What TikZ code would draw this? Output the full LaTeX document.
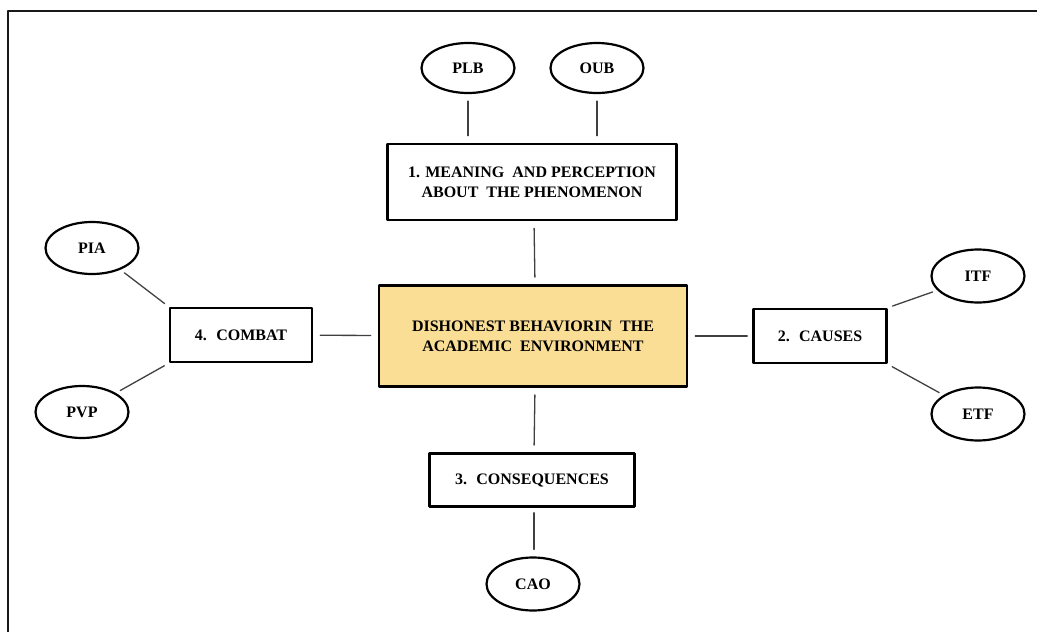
\documentclass[tikz,border=0pt]{standalone}
\usepackage{fontspec}
\setmainfont{Liberation Serif}
\usetikzlibrary{shapes.geometric}
\definecolor{kyellow}{RGB}{250,222,150}
\begin{document}
\begin{tikzpicture}[x=1pt,y=-1pt, font=\fontsize{16}{20}\selectfont\bfseries, line join=round, line cap=round,
    kbox/.style={draw, line width=2.6pt, rectangle, align=center, inner sep=0pt},
    koval/.style={draw, line width=2.2pt, ellipse, inner sep=0pt, minimum width=93pt, minimum height=53pt},
    kline/.style={draw=black!75, line width=1.3pt, shorten >=7pt, shorten <=7pt}]
    \useasboundingbox (0,0) rectangle (1037,632);
    \draw[line width=2.6pt, black!90] (8,645) -- (8,11) -- (1050,11); % khung
    % Các ô
    \node[kbox, fill=kyellow, minimum width=308pt, minimum height=101pt] (dish) at (533,336) {DISHONEST BEHAVIORIN~ THE\\ACADEMIC~ ENVIRONMENT};
    \node[kbox, minimum width=289pt, minimum height=76pt] (mean) at (532,182) {1. MEANING~ AND PERCEPTION\\ABOUT~ THE PHENOMENON};
    \node[kbox, minimum width=133pt, minimum height=54pt] (causes) at (820,336) {2.~ CAUSES};
    \node[kbox, minimum width=205pt, minimum height=53pt] (conseq) at (532,480) {3.~ CONSEQUENCES};
    \node[kbox, minimum width=142pt, minimum height=54pt] (combat) at (241,335) {4.~ COMBAT};
    % Các elip
    \node[koval, minimum height=50pt] (plb) at (468,68) {PLB};
    \node[koval, minimum height=50pt] (oub) at (597,68) {OUB};
    \node[koval] (itf) at (978,276) {ITF};
    \node[koval] (etf) at (978,414) {ETF};
    \node[koval] (cao) at (533,584) {CAO};
    \node[koval, minimum height=52pt] (pia) at (92,248) {PIA};
    \node[koval, minimum height=52pt] (pvp) at (82,412) {PVP};
    % Nối
    \draw[kline] (plb) -- (plb |- mean.north);
    \draw[kline] (oub) -- (oub |- mean.north);
    \draw[kline] ([xshift=2pt]mean.south) -- ([xshift=2pt]dish.north);
    \draw[kline] ([xshift=2pt]dish.south) -- ([xshift=2pt]conseq.north);
    \draw[kline, shorten <=5pt] ([xshift=2pt]conseq.south) -- ([xshift=1pt]cao.north);
    \draw[kline] (combat) -- (dish);
    \draw[kline, shorten >=5pt] (dish) -- (causes);
    \draw[kline, shorten >=5pt, shorten <=5pt] (pia) -- (combat.north west);
    \draw[kline, shorten >=5pt, shorten <=5pt] (pvp) -- (combat.south west);
    \draw[kline, shorten >=5pt, shorten <=5pt] (itf) -- (causes.north east);
    \draw[kline, shorten >=5pt, shorten <=5pt] (etf) -- (causes.south east);
\end{tikzpicture}
\end{document}
